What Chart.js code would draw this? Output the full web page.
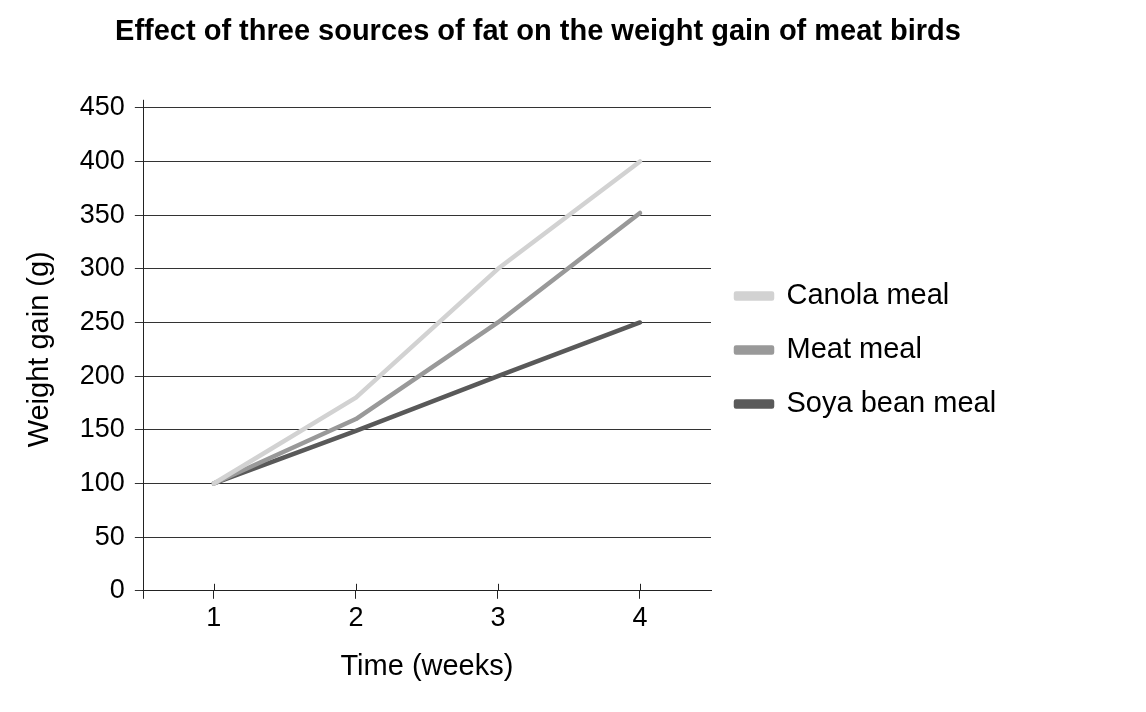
<!DOCTYPE html>
<html>
<head>
<meta charset="utf-8">
<script src="https://cdn.jsdelivr.net/npm/chart.js@4/dist/chart.umd.min.js"></script>
<style>
  html, body { margin: 0; padding: 0; background: #fff; }
  #wrap { width: 1146px; height: 712px; position: relative; }
</style>
</head>
<body>
<div id="wrap"><canvas id="c"></canvas></div>
<script>
const weeks = ['1', '2', '3', '4'];
const canolaMeal = [100, 180, 300, 400];
const meatMeal = [100, 160, 250, 352];
const soyaBeanMeal = [100, 149, 200, 250];

const FONT = "'Liberation Sans', Arial, sans-serif";
const LEGEND_WIDTH = 346;

// Axis tick marks that cross the axis line, as in the printed figure
const crossTicks = {
  id: 'crossTicks',
  afterDatasetsDraw(chart) {
    const { ctx, chartArea, scales } = chart;
    ctx.save();
    ctx.strokeStyle = '#222';
    ctx.lineWidth = 1;
    // y axis line runs a little past both ends
    const x0 = Math.round(chartArea.left) + 0.5;
    ctx.beginPath();
    ctx.moveTo(x0, chartArea.top - 8);
    ctx.lineTo(x0, chartArea.bottom + 8);
    ctx.stroke();
    // category ticks also rise above the x axis
    const xs = scales.x;
    for (let i = 0; i < xs.ticks.length; i++) {
      const px = Math.round(xs.getPixelForTick(i)) + 0.5;
      ctx.beginPath();
      ctx.moveTo(px, chartArea.bottom - 7);
      ctx.lineTo(px, chartArea.bottom);
      ctx.stroke();
    }
    ctx.restore();
  }
};

// Reserve a fixed-width column on the right for the legend
const legendColumn = {
  id: 'legendColumn',
  beforeInit(chart) {
    const lg = chart.legend;
    if (!lg) return;
    const fit = lg.fit.bind(lg);
    lg.fit = function () {
      fit();
      if (this.isHorizontal && !this.isHorizontal()) {
        this.width = Math.max(this.width, LEGEND_WIDTH);
      }
    };
  }
};

new Chart(document.getElementById('c'), {
  type: 'line',
  data: {
    labels: weeks,
    datasets: [
      { label: 'Canola meal', data: canolaMeal, borderColor: '#d2d2d2', backgroundColor: '#d2d2d2' },
      { label: 'Meat meal', data: meatMeal, borderColor: '#999999', backgroundColor: '#999999' },
      { label: 'Soya bean meal', data: soyaBeanMeal, borderColor: '#595959', backgroundColor: '#595959' }
    ]
  },
  options: {
    responsive: true,
    maintainAspectRatio: false,
    animation: false,
    layout: { padding: { left: 19, right: 89, top: 12, bottom: 24 } },
    elements: {
      line: { borderWidth: 4.5, tension: 0, borderCapStyle: 'round', borderJoinStyle: 'round' },
      point: { radius: 0, hoverRadius: 0 }
    },
    plugins: {
      title: {
        display: true,
        text: 'Effect of three sources of fat on the weight gain of meat birds',
        color: '#000',
        font: { family: FONT, size: 29, weight: 'bold' },
        padding: { top: 3, bottom: 58 }
      },
      legend: {
        position: 'right',
        labels: {
          color: '#000',
          font: { family: FONT, size: 29 },
          boxWidth: 36,
          boxHeight: 5,
          padding: 25
        }
      },
      tooltip: { enabled: false }
    },
    scales: {
      x: {
        type: 'category',
        offset: true,
        grid: { display: true, drawOnChartArea: false, drawTicks: true, tickLength: 8, color: '#222' },
        border: { display: true, color: '#222' },
        ticks: { color: '#000', font: { family: FONT, size: 27 }, padding: 4 },
        title: {
          display: true,
          text: 'Time (weeks)',
          color: '#000',
          font: { family: FONT, size: 29 },
          padding: { top: 10 }
        }
      },
      y: {
        min: 0,
        max: 450,
        grid: { color: '#333', tickLength: 8, lineWidth: 1 },
        border: { display: false },
        ticks: { stepSize: 50, color: '#000', font: { family: FONT, size: 27 }, padding: 10 },
        title: {
          display: true,
          text: 'Weight gain (g)',
          color: '#000',
          font: { family: FONT, size: 29 },
          padding: { bottom: 12 }
        }
      }
    }
  },
  plugins: [crossTicks, legendColumn]
});
</script>
</body>
</html>
